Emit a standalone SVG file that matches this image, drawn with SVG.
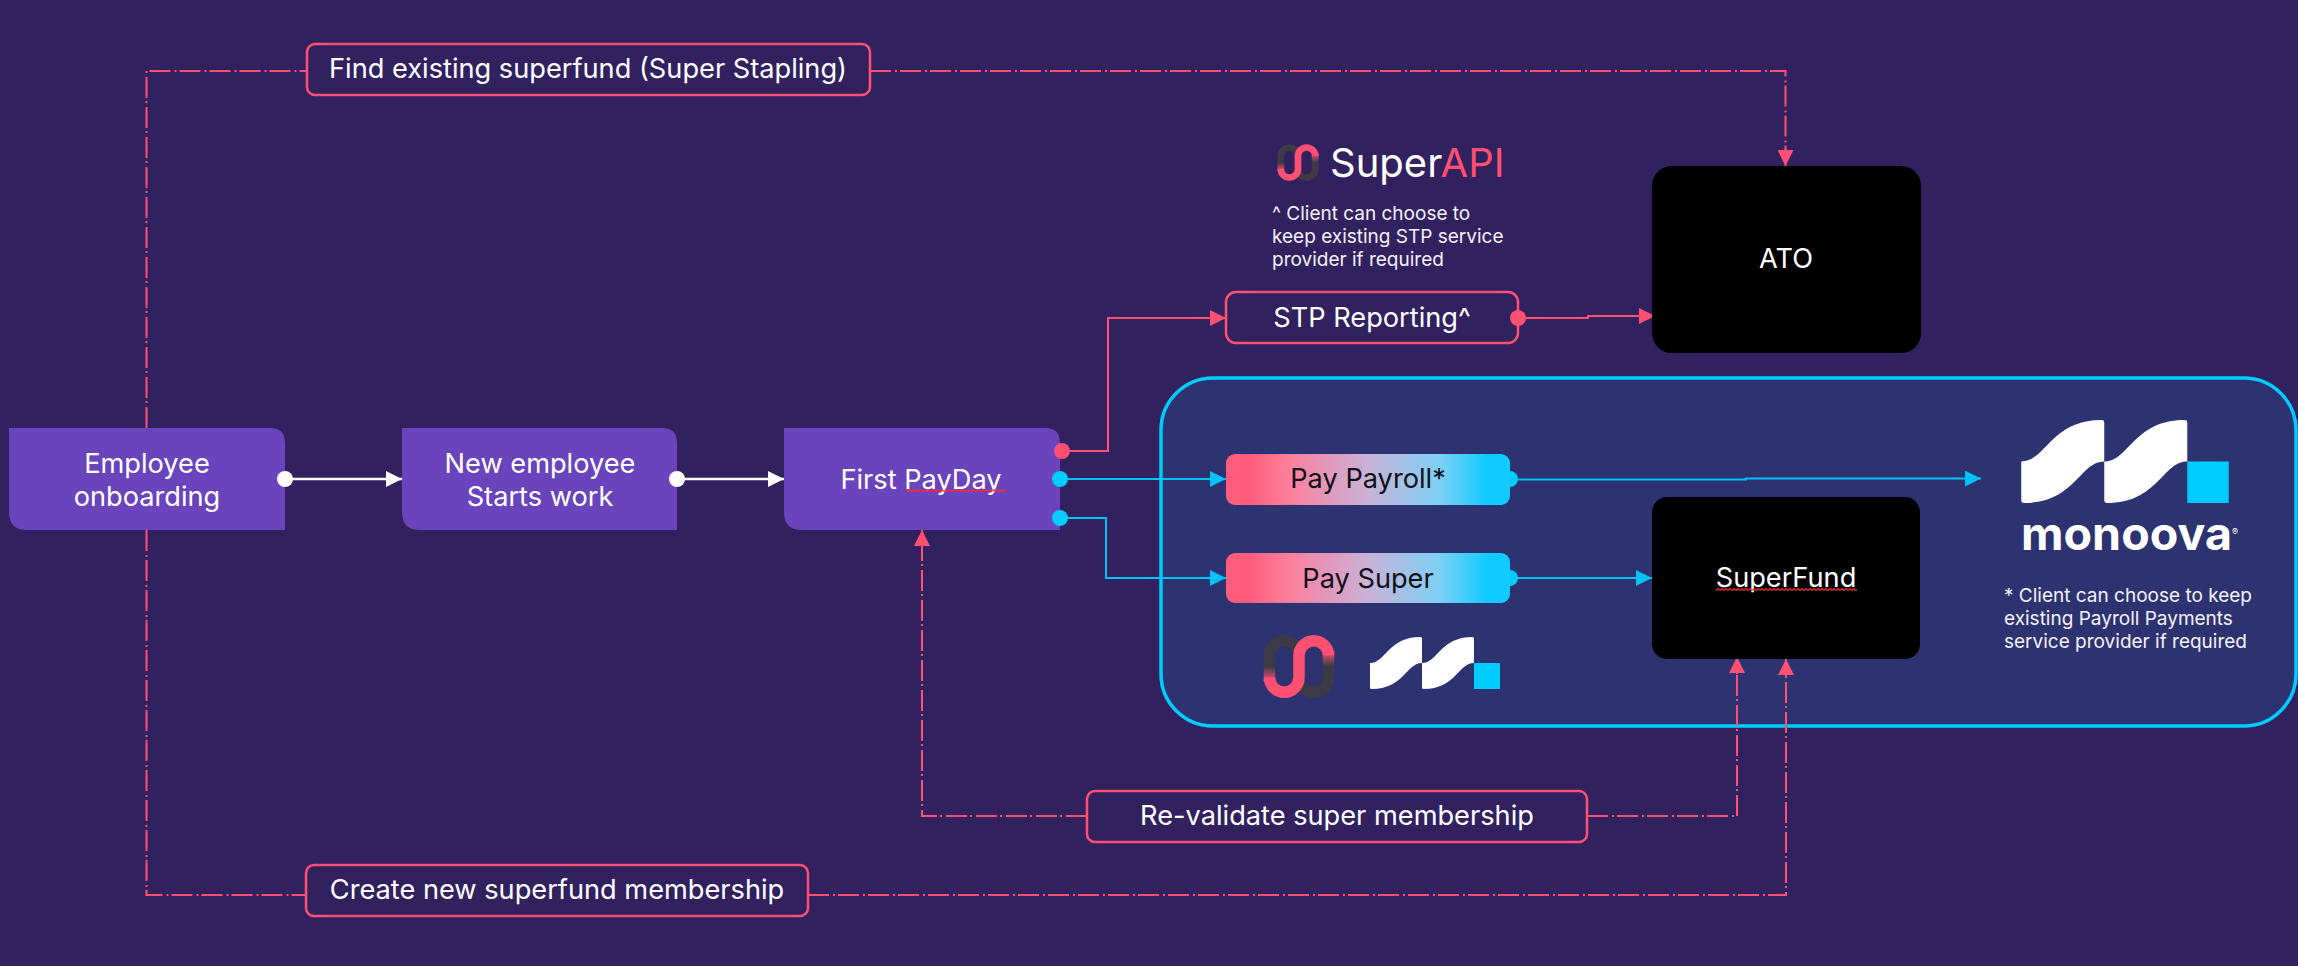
<svg xmlns="http://www.w3.org/2000/svg" width="2298" height="966" viewBox="0 0 2298 966">
<style>
text{font-family:"Inter","Liberation Sans",sans-serif;fill:#fff}
.t{font-size:27.2px;text-anchor:middle}
.d{fill:#111018}
.n{font-size:19px;fill:#f4f2f8}
.node{fill:#6a44bc}
.lab{fill:#32215f;stroke:#ff4f72;stroke-width:2.5}
.blk{fill:#000}
.pay{fill:url(#payGrad)}
.c{fill:none;stroke-width:2}
.cw{stroke:#fff;stroke-width:2.5;marker-end:url(#hw)}
.cb{stroke:#00c2f5;marker-end:url(#hb)}
.cp{stroke:#ff4f72;marker-end:url(#hp)}
.cd{stroke:#ff4f72;stroke-dasharray:21 4 2 3}
.wv{fill:url(#wave)}
</style>
<defs>
<linearGradient id="payGrad" x1="0" x2="1" y1="0" y2="0">
<stop offset="0.08" stop-color="#ff5c7c"/><stop offset="0.2" stop-color="#ff7b98"/><stop offset="0.5" stop-color="#c9b2d8"/><stop offset="0.75" stop-color="#7fd0f5"/><stop offset="0.92" stop-color="#0fcbff"/>
</linearGradient>
<linearGradient id="fadeL" gradientUnits="userSpaceOnUse" x1="0" x2="0" y1="46" y2="32"><stop offset="0" stop-color="#ff4f72"/><stop offset="1" stop-color="#ff4f72" stop-opacity="0"/></linearGradient>
<linearGradient id="fadeR" gradientUnits="userSpaceOnUse" x1="0" x2="0" y1="16" y2="31"><stop offset="0" stop-color="#ff4f72"/><stop offset="1" stop-color="#ff4f72" stop-opacity="0"/></linearGradient>
<marker id="hw" markerUnits="userSpaceOnUse" markerWidth="16" markerHeight="16" refX="16" refY="8" orient="auto"><path d="M0 0L16 8L0 16Z" fill="#fff"/></marker>
<marker id="hb" markerUnits="userSpaceOnUse" markerWidth="16" markerHeight="16" refX="16" refY="8" orient="auto"><path d="M0 0L16 8L0 16Z" fill="#00c2f5"/></marker>
<marker id="hp" markerUnits="userSpaceOnUse" markerWidth="16" markerHeight="16" refX="16" refY="8" orient="auto"><path d="M0 0L16 8L0 16Z" fill="#ff4f72"/></marker>
<pattern id="wave" patternUnits="userSpaceOnUse" width="4" height="3"><path d="M0 2.5L2 .5L4 2.5" fill="none" stroke="#ff2a2a" stroke-width="1.1"/></pattern>
<symbol id="wavem" viewBox="0 0 100 100" overflow="visible"><path d="M0 50C30 50 35 0 97 0Q100 0 100 3V50C70 50 65 100 3 100Q0 100 0 97Z" fill="#fff"/></symbol>
<symbol id="mono" viewBox="0 0 250 100" overflow="visible">
<use href="#wavem" width="100" height="100"/><use href="#wavem" x="100" width="100" height="100"/>
<rect x="200" y="50" width="50" height="50" rx="1" fill="#00ccff"/>
</symbol>
<symbol id="link" viewBox="0 0 72 63" overflow="visible">
<g fill="none" stroke-width="11.5">
<path d="M6.5 42.5V20.5a14.75 14.75 0 0 1 29.5 0" stroke="#3d3a48"/>
<path d="M36 42.5a14.75 14.75 0 0 0 29.5 0V20.5" stroke="#3d3a48"/>
<path d="M6.5 46v-14" stroke="url(#fadeL)"/>
<path d="M65.5 16v15" stroke="url(#fadeR)"/>
<path d="M6.5 46v-3.5a14.75 14.75 0 0 0 29.5 0V20.5a14.75 14.75 0 0 1 29.5 0v-4.5" stroke="#ff4f72"/>
</g>
</symbol>
</defs>
<rect width="2298" height="966" fill="#32215f"/>
<g id="platform"><rect x="1161" y="378" width="1135" height="348" rx="52" fill="#2d3270" stroke="#00ccff" stroke-width="3.5"/></g>
<g id="connectors">
<path class="c cw" d="M285 479H402"/>
<path class="c cw" d="M677 479H784"/>
<path class="c cp" d="M1062 451H1108V318H1226"/>
<path class="c cb" d="M1060 479H1226"/>
<path class="c cb" d="M1060 518H1106V578H1226"/>
<path class="c cp" d="M1518 318H1588V316H1655"/>
<path class="c cb" d="M1518 479.5H1746V478.5H1981"/>
<path class="c cb" d="M1510 578H1652"/>
<path class="c cd" d="M146.5 428V71H307"/>
<path class="c cd" d="M870 71H1785.5V150"/>
<path class="c cp" d="M1785.5 149V166"/>
<path class="c cd" d="M146.5 530V895H306"/>
<path class="c cd" d="M808 895H1786V675"/>
<path class="c cp" d="M1786 676V659"/>
<path class="c cd" d="M1087 816H922V546"/>
<path class="c cp" d="M922 547V530"/>
<path class="c cd" d="M1587 816H1737V673"/>
<path class="c cp" d="M1737 674V657"/>
</g>
<g id="employee-onboarding"><path class="node" d="M9 428H270Q285 428 285 443V530H27Q9 530 9 512Z"/><text class="t" x="147" y="473">Employee</text><text class="t" x="147" y="506">onboarding</text><circle cx="285" cy="479" r="8" fill="#fff"/></g>
<g id="new-employee"><path class="node" d="M402 428H662Q677 428 677 443V530H420Q402 530 402 512Z"/><text class="t" x="540" y="473">New employee</text><text class="t" x="540" y="506">Starts work</text><circle cx="677" cy="479" r="8" fill="#fff"/></g>
<g id="first-payday"><path class="node" d="M784 428H1045Q1060 428 1060 443V530H802Q784 530 784 512Z"/><text class="t" x="921" y="489">First PayDay</text><rect class="wv" x="906" y="489" width="100" height="3"/><circle cx="1062" cy="451" r="8" fill="#ff4f72"/><circle cx="1060" cy="479" r="8" fill="#00ccff"/><circle cx="1060" cy="518" r="8" fill="#00ccff"/></g>
<g id="stp-reporting"><rect class="lab" x="1226" y="292" width="292" height="51" rx="10"/><text class="t" x="1372" y="327">STP Reporting^</text><circle cx="1518" cy="318" r="8" fill="#ff4f72"/></g>
<g id="pay-payroll"><circle cx="1510" cy="479" r="8" fill="#00ccff"/><rect class="pay" x="1226" y="454" width="284" height="51" rx="9"/><text class="t d" x="1368" y="488">Pay Payroll*</text></g>
<g id="pay-super"><circle cx="1510" cy="578" r="8" fill="#00ccff"/><rect class="pay" x="1226" y="553" width="284" height="50" rx="9"/><text class="t d" x="1368" y="588">Pay Super</text></g>
<g id="ato"><rect class="blk" x="1652" y="166" width="269" height="187" rx="20"/><text class="t" x="1786" y="268">ATO</text></g>
<g id="superfund"><rect class="blk" x="1652" y="497" width="268" height="162" rx="15"/><text class="t" x="1786" y="587">SuperFund</text><rect class="wv" x="1716" y="588" width="141" height="3"/></g>
<g id="find-superfund"><rect class="lab" x="307" y="44" width="563" height="51" rx="8"/><text class="t" x="588" y="78">Find existing superfund (Super Stapling)</text></g>
<g id="create-superfund"><rect class="lab" x="306" y="865" width="502" height="51" rx="8"/><text class="t" x="557" y="899">Create new superfund membership</text></g>
<g id="revalidate"><rect class="lab" x="1087" y="791" width="500" height="51" rx="8"/><text class="t" x="1337" y="825">Re-validate super membership</text></g>
<g id="superapi-brand"><use href="#link" x="1277" y="144" width="42" height="37"/><text x="1330" y="177" font-size="40"><tspan>Super</tspan><tspan fill="#ff4f72">API</tspan></text>
<text class="n" x="1272" y="220">^ Client can choose to</text><text class="n" x="1272" y="243">keep existing STP service</text><text class="n" x="1272" y="266">provider if required</text></g>
<g id="pay-logos"><use href="#link" x="1263" y="635" width="72" height="63"/><use href="#mono" x="1370" y="637" width="130" height="52"/></g>
<g id="monoova-brand"><use href="#mono" x="2021" y="420" width="208" height="83"/><text x="2021" y="550" font-size="46" font-weight="700" textLength="211" lengthAdjust="spacingAndGlyphs">monoova</text><text x="2232" y="535" font-size="9">®</text>
<text class="n" x="2004" y="602">* Client can choose to keep</text><text class="n" x="2004" y="625">existing Payroll Payments</text><text class="n" x="2004" y="648">service provider if required</text></g>
</svg>
